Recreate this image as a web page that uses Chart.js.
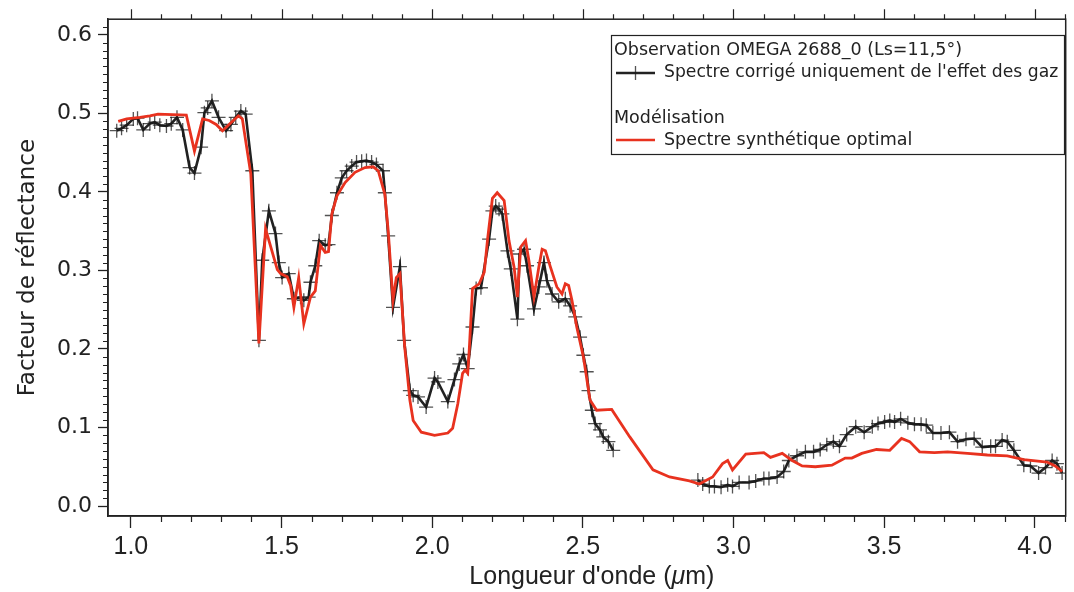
<!DOCTYPE html>
<html>
<head>
<meta charset="utf-8">
<script src="https://cdn.jsdelivr.net/npm/chart.js@4.4.1/dist/chart.umd.min.js"></script>
<style>
  html, body { margin: 0; padding: 0; background: #fff; }
</style>
</head>
<body>
<canvas id="spectre" width="1074" height="592"></canvas>
<script>
// Spectre observé, voie C (µm / réflectance)
const obsWaveC = [0.953, 0.969, 0.986, 1.008, 1.022, 1.041, 1.063, 1.079, 1.096, 1.118, 1.134, 1.153, 1.172,
  1.195, 1.211, 1.233, 1.244, 1.255, 1.269, 1.291, 1.316, 1.332, 1.348, 1.365, 1.381, 1.403, 1.425, 1.436,
  1.458, 1.480, 1.491, 1.502, 1.524, 1.541, 1.563, 1.574, 1.590, 1.596, 1.612, 1.625, 1.645, 1.656, 1.667,
  1.684, 1.700, 1.716, 1.733, 1.749, 1.766, 1.782, 1.799, 1.815, 1.837, 1.843, 1.854, 1.870, 1.893, 1.907,
  1.926, 1.937, 1.953, 1.980, 2.008, 2.019, 2.052, 2.074, 2.090, 2.104, 2.118, 2.134, 2.146, 2.162, 2.189,
  2.200, 2.211, 2.222, 2.233, 2.250, 2.261, 2.283, 2.290, 2.305, 2.315, 2.338, 2.354, 2.371, 2.381, 2.398,
  2.420, 2.442, 2.458, 2.475, 2.491, 2.502, 2.513, 2.519, 2.530, 2.541, 2.557, 2.568, 2.585, 2.601];
const obsReflC = [0.478, 0.481, 0.485, 0.493, 0.494, 0.479, 0.487, 0.489, 0.485, 0.484, 0.487, 0.495, 0.479,
  0.431, 0.424, 0.457, 0.501, 0.507, 0.516, 0.495, 0.478, 0.486, 0.495, 0.503, 0.499, 0.427, 0.211, 0.313,
  0.376, 0.347, 0.310, 0.291, 0.296, 0.264, 0.266, 0.262, 0.266, 0.285, 0.306, 0.338, 0.332, 0.333, 0.370,
  0.399, 0.418, 0.427, 0.433, 0.438, 0.439, 0.440, 0.438, 0.435, 0.427, 0.399, 0.344, 0.253, 0.305, 0.211,
  0.147, 0.141, 0.139, 0.126, 0.163, 0.158, 0.133, 0.161, 0.181, 0.193, 0.175, 0.228, 0.277, 0.278, 0.340,
  0.376, 0.382, 0.378, 0.372, 0.325, 0.302, 0.238, 0.321, 0.327, 0.306, 0.251, 0.279, 0.310, 0.287, 0.270,
  0.260, 0.264, 0.255, 0.241, 0.215, 0.192, 0.171, 0.147, 0.122, 0.105, 0.097, 0.088, 0.082, 0.071];

// Spectre observé, voie L
const obsWaveL = [2.882, 2.898, 2.920, 2.937, 2.959, 2.981, 2.997, 3.019, 3.052, 3.074, 3.101, 3.118, 3.145,
  3.167, 3.184, 3.211, 3.239, 3.266, 3.288, 3.310, 3.332, 3.352, 3.376, 3.406, 3.434, 3.461, 3.480, 3.502,
  3.519, 3.535, 3.555, 3.579, 3.601, 3.623, 3.640, 3.662, 3.689, 3.717, 3.744, 3.772, 3.799, 3.826, 3.854,
  3.870, 3.892, 3.909, 3.931, 3.964, 3.986, 4.013, 4.036, 4.058, 4.074, 4.091];
const obsReflL = [0.033, 0.028, 0.025, 0.025, 0.024, 0.027, 0.025, 0.030, 0.030, 0.032, 0.035, 0.035, 0.037,
  0.044, 0.058, 0.064, 0.069, 0.069, 0.072, 0.078, 0.082, 0.076, 0.091, 0.101, 0.094, 0.101, 0.105, 0.107,
  0.109, 0.107, 0.111, 0.106, 0.104, 0.104, 0.103, 0.093, 0.093, 0.094, 0.082, 0.085, 0.086, 0.075, 0.076,
  0.076, 0.084, 0.082, 0.071, 0.052, 0.051, 0.042, 0.049, 0.058, 0.054, 0.042];

// Spectre synthétique optimal
const modelWave = [0.958, 0.986, 1.030, 1.063, 1.090, 1.184, 1.211, 1.238, 1.260, 1.283, 1.304, 1.332, 1.357,
  1.370, 1.381, 1.398, 1.425, 1.447, 1.486, 1.497, 1.519, 1.530, 1.541, 1.557, 1.574, 1.596, 1.612, 1.629,
  1.645, 1.656, 1.667, 1.684, 1.711, 1.744, 1.777, 1.804, 1.821, 1.843, 1.854, 1.870, 1.881, 1.893, 1.909,
  1.926, 1.937, 1.964, 2.008, 2.052, 2.068, 2.085, 2.101, 2.109, 2.118, 2.123, 2.134, 2.156, 2.173, 2.184,
  2.200, 2.216, 2.239, 2.255, 2.272, 2.283, 2.294, 2.310, 2.321, 2.338, 2.354, 2.365, 2.376, 2.393, 2.414,
  2.431, 2.442, 2.453, 2.464, 2.480, 2.502, 2.524, 2.546, 2.596, 2.656, 2.733, 2.788, 2.854, 2.887, 2.931,
  2.964, 2.981, 2.997, 3.041, 3.101, 3.123, 3.162, 3.195, 3.228, 3.272, 3.327, 3.371, 3.393, 3.426, 3.475,
  3.519, 3.558, 3.585, 3.618, 3.667, 3.711, 3.777, 3.843, 3.909, 3.964, 4.041, 4.068, 4.091];
const modelRefl = [0.490, 0.493, 0.495, 0.497, 0.499, 0.498, 0.452, 0.493, 0.491, 0.486, 0.478, 0.488, 0.497,
  0.493, 0.465, 0.423, 0.207, 0.353, 0.301, 0.296, 0.292, 0.281, 0.253, 0.291, 0.232, 0.266, 0.274, 0.332,
  0.323, 0.324, 0.372, 0.395, 0.412, 0.425, 0.431, 0.432, 0.427, 0.397, 0.351, 0.262, 0.291, 0.296, 0.202,
  0.135, 0.109, 0.094, 0.090, 0.093, 0.099, 0.130, 0.169, 0.173, 0.169, 0.198, 0.277, 0.283, 0.298, 0.340,
  0.392, 0.399, 0.389, 0.338, 0.304, 0.266, 0.330, 0.338, 0.313, 0.266, 0.304, 0.327, 0.325, 0.304, 0.279,
  0.270, 0.283, 0.281, 0.262, 0.228, 0.190, 0.135, 0.122, 0.123, 0.088, 0.046, 0.037, 0.032, 0.028, 0.037,
  0.054, 0.058, 0.046, 0.066, 0.068, 0.062, 0.067, 0.058, 0.051, 0.050, 0.052, 0.061, 0.061, 0.067, 0.072,
  0.071, 0.086, 0.082, 0.069, 0.068, 0.069, 0.067, 0.065, 0.064, 0.059, 0.056, 0.051, 0.044];

// graduations
const xTickValues = [1.0, 1.5, 2.0, 2.5, 3.0, 3.5, 4.0];
const yTickValues = [0.0, 0.1, 0.2, 0.3, 0.4, 0.5, 0.6];

const ink = "#222222";
const redLine = "#e8321f";
const crossColor = "rgba(25,25,25,0.75)";

function pts(xs, ys) {
    return xs.map(function(x, i) { return { x: x, y: ys[i] }; });
}

// cadre, petites graduations, titre de l'axe x et légende
const decorations = {
    id: "decorations",
    afterDraw(chart) {
        let ctx = chart.ctx;
        let a = chart.chartArea;
        let sx = chart.scales.x;
        let sy = chart.scales.y;
        ctx.save();

        ctx.strokeStyle = ink;
        ctx.lineWidth = 1.5;
        ctx.strokeRect(a.left, a.top, a.right - a.left, a.bottom - a.top);

        ctx.lineWidth = 1.2;
        ctx.beginPath();
        for (let i = 10; i <= 41; i++) {
            let px = Math.round(sx.getPixelForValue(i / 10)) + 0.5;
            let major = i % 5 === 0;
            if (!major) {
                ctx.moveTo(px, a.bottom);
                ctx.lineTo(px, a.bottom + 6);
            }
            ctx.moveTo(px, a.top);
            ctx.lineTo(px, a.top - (major ? 10 : 5));
        }
        for (let i = 0; i <= 61; i++) {
            if (i % 10 === 0) continue;
            let py = Math.round(sy.getPixelForValue(i / 100)) + 0.5;
            ctx.moveTo(a.left, py);
            ctx.lineTo(a.left - 5, py);
        }
        ctx.stroke();

        // titre axe x avec µ en italique
        let fam = "'Liberation Sans', sans-serif";
        let p1 = "Longueur d'onde (", p2 = "\u03bc", p3 = "m)";
        ctx.fillStyle = ink;
        ctx.textBaseline = "middle";
        ctx.textAlign = "left";
        ctx.font = "25px " + fam;
        let w1 = ctx.measureText(p1).width;
        let w3 = ctx.measureText(p3).width;
        ctx.font = "italic 25px " + fam;
        let w2 = ctx.measureText(p2).width;
        let cx = (a.left + a.right) / 2 + 5;
        let tx = cx - (w1 + w2 + w3) / 2;
        let ty = 577;
        ctx.font = "25px " + fam;
        ctx.fillText(p1, tx, ty);
        ctx.font = "italic 25px " + fam;
        ctx.fillText(p2, tx + w1, ty);
        ctx.font = "25px " + fam;
        ctx.fillText(p3, tx + w1 + w2, ty);

        // légende
        let lx = 611.5, ly = 35.5;
        ctx.fillStyle = "#fff";
        ctx.fillRect(lx, ly, 453, 119);
        ctx.strokeStyle = ink;
        ctx.lineWidth = 1.2;
        ctx.strokeRect(lx, ly, 453, 119);
        ctx.fillStyle = ink;
        ctx.font = "17.5px 'DejaVu Sans', sans-serif";
        ctx.fillText("Observation OMEGA 2688_0 (Ls=11,5\u00b0)", 614, 50);
        ctx.font = "17.2px 'DejaVu Sans', sans-serif";
        ctx.fillText("Spectre corrig\u00e9 uniquement de l'effet des gaz", 664, 73);
        ctx.font = "17.5px 'DejaVu Sans', sans-serif";
        ctx.fillText("Mod\u00e9lisation", 614, 118);
        ctx.fillText("Spectre synth\u00e9tique optimal", 664, 140);

        ctx.lineWidth = 2.5;
        ctx.strokeStyle = ink;
        ctx.beginPath();
        ctx.moveTo(616, 73); ctx.lineTo(655, 73);
        ctx.stroke();
        ctx.lineWidth = 1.3;
        ctx.strokeStyle = crossColor;
        ctx.beginPath();
        ctx.moveTo(635.5, 66); ctx.lineTo(635.5, 80);
        ctx.stroke();
        ctx.lineWidth = 2.5;
        ctx.strokeStyle = redLine;
        ctx.beginPath();
        ctx.moveTo(616, 140); ctx.lineTo(655, 140);
        ctx.stroke();

        ctx.restore();
    }
};

const obsStyle = {
    borderColor: ink,
    borderWidth: 2.6,
    pointStyle: "cross",
    pointRadius: 7,
    pointBorderWidth: 1.3,
    pointBorderColor: crossColor,
    pointBackgroundColor: crossColor,
    tension: 0,
    fill: false
};

new Chart(document.getElementById("spectre").getContext("2d"), {
    type: "line",
    data: {
        datasets: [
            {
                label: "Spectre synthétique optimal",
                data: pts(modelWave, modelRefl),
                borderColor: redLine,
                borderWidth: 2.8,
                pointRadius: 0,
                tension: 0,
                fill: false
            },
            Object.assign({ label: "Spectre corrigé uniquement de l'effet des gaz", data: pts(obsWaveC, obsReflC) }, obsStyle),
            Object.assign({ label: "voie L", data: pts(obsWaveL, obsReflL) }, obsStyle)
        ]
    },
    options: {
        responsive: false,
        devicePixelRatio: 1,
        animation: false,
        layout: { padding: { top: 18, right: 2, left: 0, bottom: 0 } },
        plugins: {
            legend: { display: false },
            tooltip: { enabled: false }
        },
        scales: {
            x: {
                type: "linear",
                min: 0.924,
                max: 4.103,
                afterBuildTicks: function(s) { s.ticks = xTickValues.map(function(v) { return { value: v }; }); },
                afterFit: function(s) { s.height = 76; },
                ticks: {
                    color: ink,
                    padding: 4,
                    maxRotation: 0,
                    font: { family: "'Liberation Sans', sans-serif", size: 25 },
                    callback: function(v) { return Number(v).toFixed(1); }
                },
                grid: { drawOnChartArea: false, tickLength: 12, tickColor: ink, tickWidth: 1.3 },
                border: { color: ink, width: 1.5 }
            },
            y: {
                type: "linear",
                min: -0.0127,
                max: 0.620,
                afterBuildTicks: function(s) { s.ticks = yTickValues.map(function(v) { return { value: v }; }); },
                afterFit: function(s) { s.width = 108; },
                ticks: {
                    color: ink,
                    padding: 6,
                    font: { family: "'DejaVu Sans', sans-serif", size: 22 },
                    callback: function(v) { return Number(v).toFixed(1); }
                },
                grid: { drawOnChartArea: false, tickLength: 10, tickColor: ink, tickWidth: 1.3 },
                border: { color: ink, width: 1.5 },
                title: {
                    display: true,
                    text: "Facteur de réflectance",
                    color: ink,
                    font: { family: "'DejaVu Sans', sans-serif", size: 23 },
                    padding: { top: 14, bottom: 0 }
                }
            }
        }
    },
    plugins: [decorations]
});
</script>
</body>
</html>
